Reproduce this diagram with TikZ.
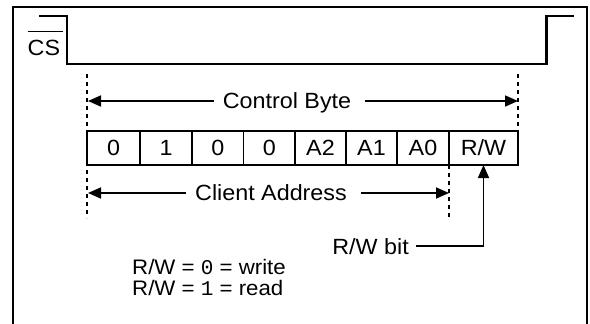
\documentclass[tikz,border=0pt]{standalone}
\usepackage{fontspec}
\setmainfont{Liberation Sans}[FakeStretch=1.06]
\newfontfamily\monofont{Liberation Mono}
\usetikzlibrary{arrows.meta}
\begin{document}
\begin{tikzpicture}[x=1pt,y=-1pt,
  every node/.style={font=\fontsize{22}{22}\selectfont},
  wire/.style={line width=2.2pt},
  cell/.style={draw,line width=1.8pt,minimum height=34pt,inner sep=0pt,outer sep=0pt,anchor=north west},
  guide/.style={line width=1.6pt,dash pattern=on 4pt off 4pt},
  arr/.style={line width=1.6pt,-{Triangle[length=13pt,width=11pt]}},
  lbl/.style={inner sep=0pt,anchor=base}]
\useasboundingbox (0,0) rectangle (590,324);
% frame
\draw[wire] (13,324) -- (13,6.7) -- (586.7,6.7) -- (586.7,324);
% CS waveform
\draw[wire] (39,16) -- (67,16) -- (67,64) -- (546.5,64) -- (546.5,16) -- (574,16);
\node[lbl,anchor=base west] (cs) at (27.5,55) {CS};
\draw[line width=1.6pt] ([yshift=8pt]cs.north west) -- ([yshift=8pt,xshift=3pt]cs.north east);
% guides
\coordinate (gl1) at (87,74);
\coordinate (gl2) at (87,218);
\coordinate (gr1) at (518,74);
\coordinate (ga2) at (449,218);
\draw[guide] (gl1) -- (gl2);
% cells
\node[cell,minimum width=53pt] (c0) at (87,131) {0};
\node[cell,minimum width=52pt] (c1) at (140,131) {1};
\node[cell,minimum width=51.5pt] (c2) at (192,131) {0};
\node[cell,minimum width=51.5pt] (c3) at (243.5,131) {0};
\node[cell,minimum width=51pt] (c4) at (295,131) {A2};
\node[cell,minimum width=51pt] (c5) at (346,131) {A1};
\node[cell,minimum width=52pt] (c6) at (397,131) {A0};
\node[cell,minimum width=69pt] (c7) at (449,131) {R/W};
\draw[guide] (gr1) -- (c7.north east);
\draw[guide] (c6.south east) -- (ga2);
% Control Byte
\node[lbl] (cb) at (287,108) {Control Byte};
\coordinate (cbL) at (88,101);
\coordinate (cbR) at (518,101);
\draw[arr] ([xshift=-9pt]cb.west |- cbL) -- (cbL);
\draw[arr] ([xshift=14pt]cb.east |- cbR) -- (cbR);
% Client Address
\node[lbl] (ca) at (271,200.5) {Client Address};
\coordinate (caL) at (88,193);
\coordinate (caR) at (449,193);
\draw[arr] ([xshift=-9pt]ca.west |- caL) -- (caL);
\draw[arr] ([xshift=14pt]ca.east |- caR) -- (caR);
% R/W bit
\node[lbl,anchor=base east] (rwb) at (409,254) {R/W bit};
\draw[arr] ([xshift=7pt]rwb.east) -| (c7.south);
% legend
\node[inner sep=0pt,anchor=north west,align=left,font=\fontsize{21}{20.5}\selectfont] (leg) at (132,259.5)
  {R/W = {\monofont 0} = write\\R/W = {\monofont 1} = read};
\end{tikzpicture}
\end{document}
